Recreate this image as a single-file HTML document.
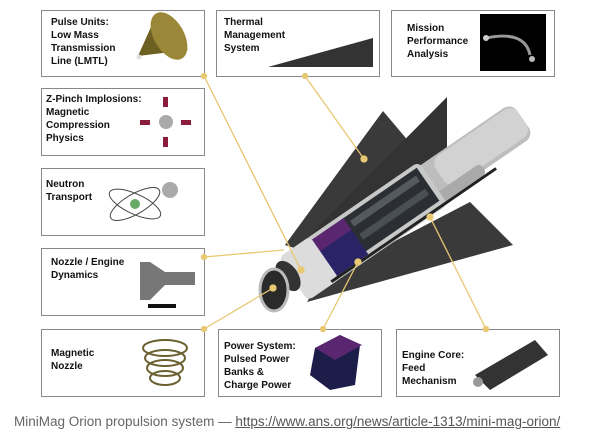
<!DOCTYPE html>
<html><head><meta charset="utf-8"><style>
body{margin:0;width:603px;height:445px;background:#fff;overflow:hidden;font-family:"Liberation Sans",sans-serif}
.b{position:absolute;border:1px solid #888;background:#fff;box-sizing:border-box}
.t{position:absolute;font-size:10px;font-weight:bold;line-height:13px;color:#111}
.cap{position:absolute;left:14px;top:414px;font-size:13.5px;color:#666}
.cap u{color:#555}
</style></head><body>
<div class="b" style="left:41px;top:10px;width:164px;height:67px"></div>
<div class="t" style="left:51px;top:16px">Pulse Units:<br>Low Mass<br>Transmission<br>Line (LMTL)</div>
<div class="b" style="left:216px;top:10px;width:164px;height:67px"></div>
<div class="t" style="left:224px;top:16px">Thermal<br>Management<br>System</div>
<div class="b" style="left:391px;top:10px;width:164px;height:67px"></div>
<div class="t" style="left:407px;top:22px">Mission<br>Performance<br>Analysis</div>
<div class="b" style="left:41px;top:88px;width:164px;height:68px"></div>
<div class="t" style="left:46px;top:93px">Z-Pinch Implosions:<br>Magnetic<br>Compression<br>Physics</div>
<div class="b" style="left:41px;top:168px;width:164px;height:68px"></div>
<div class="t" style="left:46px;top:178px">Neutron<br>Transport</div>
<div class="b" style="left:41px;top:248px;width:164px;height:68px"></div>
<div class="t" style="left:51px;top:256px">Nozzle / Engine<br>Dynamics</div>
<div class="b" style="left:41px;top:329px;width:164px;height:68px"></div>
<div class="t" style="left:51px;top:347px">Magnetic<br>Nozzle</div>
<div class="b" style="left:218px;top:329px;width:164px;height:68px"></div>
<div class="t" style="left:224px;top:340px">Power System:<br>Pulsed Power<br>Banks &amp;<br>Charge Power</div>
<div class="b" style="left:396px;top:329px;width:164px;height:68px"></div>
<div class="t" style="left:402px;top:349px">Engine Core:<br>Feed<br>Mechanism</div>
<svg width="603" height="445" style="position:absolute;left:0;top:0">
<!-- icons -->
<polygon points="138,56 155,18 188,50" fill="#6e6020"/><ellipse cx="169" cy="36" rx="15" ry="26" fill="#9a8838" transform="rotate(-30 169 36)"/><circle cx="139" cy="57" r="2.5" fill="#ddd"/>
<polygon points="268,67 373,38 373,67" fill="#333"/>
<rect x="480" y="14" width="66" height="57" fill="#000"/><path d="M486,38 Q525,30 530,55" stroke="#999" stroke-width="3" fill="none"/><circle cx="486" cy="38" r="3" fill="#ccc"/><circle cx="532" cy="59" r="3" fill="#bbb"/>
<circle cx="166" cy="122" r="7" fill="#aaa"/><g fill="#8a1d3c"><rect x="163" y="97" width="5" height="10"/><rect x="163" y="137" width="5" height="10"/><rect x="140" y="120" width="10" height="5"/><rect x="181" y="120" width="10" height="5"/></g>
<ellipse cx="135" cy="204" rx="28" ry="10" fill="none" stroke="#444" transform="rotate(25 135 204)"/><ellipse cx="135" cy="204" rx="28" ry="10" fill="none" stroke="#444" transform="rotate(-30 135 204)"/><circle cx="135" cy="204" r="5" fill="#6a6"/><circle cx="170" cy="190" r="8" fill="#aaa"/>
<polygon points="140,262 150,262 165,272 195,272 195,285 165,285 150,300 140,300" fill="#777"/><rect x="148" y="304" width="28" height="4" fill="#111"/>
<g fill="none" stroke="#6a6030" stroke-width="2"><ellipse cx="165" cy="348" rx="22" ry="8"/><ellipse cx="165" cy="358" rx="20" ry="8"/><ellipse cx="165" cy="368" rx="18" ry="8"/><ellipse cx="165" cy="378" rx="15" ry="7"/></g>
<polygon points="315,348 340,335 360,345 355,385 330,390 310,375" fill="#1d1d4a"/><polygon points="315,348 340,335 362,345 335,360" fill="#5a2670"/>
<polygon points="475,375 535,340 548,355 490,390" fill="#333"/><circle cx="478" cy="382" r="5" fill="#999"/>
<!-- rocket fins -->
<polygon points="383,111 285,245 300,250 420,165 405,137" fill="#3a3a3a"/>
<polygon points="447,97 305,240 447,175" fill="#333"/>
<polygon points="470,202 513,245 307,302 320,280" fill="#3a3a3a"/>
<!-- body -->
<g transform="translate(285,285) rotate(-34.5)">
<rect x="150" y="-22" width="140" height="40" rx="10" fill="#bdbdbd"/>
<rect x="190" y="-20" width="100" height="34" rx="10" fill="#d2d2d2"/>
<rect x="170" y="10" width="60" height="12" rx="5" fill="#aaa"/>
<rect x="10" y="-26" width="170" height="52" rx="6" fill="#c8c8c8"/>
<rect x="85" y="-22" width="90" height="40" fill="#2b2f33"/>
<rect x="90" y="-16" width="80" height="7" fill="#555a5e"/>
<rect x="90" y="0" width="80" height="7" fill="#4a4f53"/>
<rect x="48" y="-22" width="38" height="44" fill="#2a2466"/>
<rect x="48" y="-22" width="38" height="14" fill="#5a2670"/>
<rect x="10" y="-26" width="38" height="52" rx="6" fill="#dcdcdc"/>
<rect x="40" y="22" width="200" height="3" fill="#222"/>
</g>
<ellipse cx="288" cy="276" rx="10" ry="17" fill="#333" transform="rotate(-34 288 276)"/>
<ellipse cx="274" cy="290" rx="14" ry="21" fill="#2a2a2a" stroke="#bbb" stroke-width="3"/>
<!-- connectors -->
<g stroke="#e8c870" stroke-width="1.3" fill="#e8c870">
<line x1="204" y1="76" x2="301" y2="270"/><circle cx="204" cy="76" r="2.5"/><circle cx="301" cy="270" r="3"/>
<line x1="305" y1="76" x2="364" y2="159"/><circle cx="305" cy="76" r="2.5"/><circle cx="364" cy="159" r="3"/>
<line x1="204" y1="257" x2="284" y2="250"/><circle cx="204" cy="257" r="2.5"/>
<line x1="204" y1="329" x2="273" y2="288"/><circle cx="204" cy="329" r="2.5"/><circle cx="273" cy="288" r="3"/>
<line x1="323" y1="329" x2="358" y2="262"/><circle cx="323" cy="329" r="2.5"/><circle cx="358" cy="262" r="3"/>
<line x1="486" y1="329" x2="430" y2="217"/><circle cx="486" cy="329" r="2.5"/><circle cx="430" cy="217" r="3"/>
</g>
</svg>
<div class="cap">MiniMag Orion propulsion system — <u>https://www.ans.org/news/article-1313/mini-mag-orion/</u></div>
</body></html>
